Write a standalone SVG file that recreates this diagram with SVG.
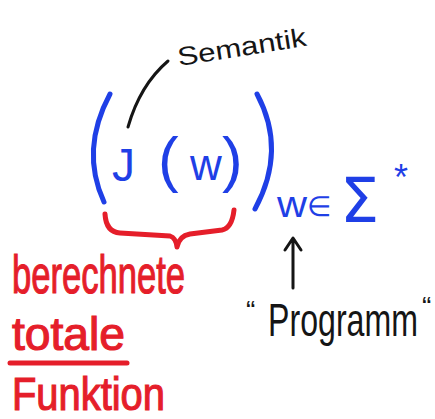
<svg xmlns="http://www.w3.org/2000/svg" width="435" height="419" viewBox="0 0 435 419">
<style>
.blue{fill:#1f3fe6;font-family:"Liberation Sans",Arial,sans-serif}
.sig{fill:#1f3fe6;font-family:"DejaVu Sans",sans-serif;font-size:62px}
.red{fill:#e51e2a;stroke:#e51e2a;stroke-width:1.2;font-family:"Liberation Sans",Arial,sans-serif}
.blk{fill:#151515;font-family:"Liberation Sans",Arial,sans-serif}
.sb{fill:none;stroke:#1f3fe6;stroke-width:5;stroke-linecap:round}
.sr{fill:none;stroke:#e51e2a;stroke-width:5;stroke-linecap:round;stroke-linejoin:round}
.sk{fill:none;stroke:#151515;stroke-width:3;stroke-linecap:round;stroke-linejoin:round}
</style>
<rect width="435" height="419" fill="#ffffff"/>
<g id="formula">
<path class="sb" d="M110 94 Q80 150 104 202"/>
<path class="sb" d="M257 94 Q287 150 255 209"/>
<text class="blue" x="112" y="181" font-size="46">J</text>
<text class="blue" font-size="62" y="180"><tspan x="158">(</tspan><tspan x="190" font-size="44">w</tspan><tspan x="222">)</tspan></text>
<text class="blue" x="277" y="217" font-size="36" textLength="30" lengthAdjust="spacingAndGlyphs">w</text>
<text class="blue" x="307" y="216" font-size="28">∈</text>
<text class="sig" x="340" y="222">&#931;</text>
<text class="blue" x="394" y="190" font-size="36">*</text>
</g>
<g id="semantik">
<text class="blk" x="179" y="66" font-size="26" transform="rotate(-9 179 66)" textLength="130" lengthAdjust="spacingAndGlyphs">Semantik</text>
<path class="sk" d="M168 61 Q140 85 128 127"/>
</g>
<g id="brace">
<path class="sr" d="M105 214 Q106 232 120 233 L170 236 Q176 238 177 247 Q179 236 190 234 L222 230 Q232 228 234 210"/>
</g>
<g id="function-label">
<text class="red" x="12" y="293" font-size="54" textLength="173" lengthAdjust="spacingAndGlyphs">berechnete</text>
<text class="red" x="12" y="350" font-size="46" textLength="113" lengthAdjust="spacingAndGlyphs">totale</text>
<line class="sr" x1="10" y1="363" x2="127" y2="363"/>
<text class="red" x="12" y="410" font-size="46" textLength="153" lengthAdjust="spacingAndGlyphs">Funktion</text>
</g>
<g id="programm">
<path class="sk" d="M293 288 L293 239 M285 250 L293 238 L301 250"/>
<text class="blk" x="246" y="320" font-size="28">“</text>
<text class="blk" x="268" y="336" font-size="46" textLength="150" lengthAdjust="spacingAndGlyphs">Programm</text>
<text class="blk" x="422" y="316" font-size="28">“</text>
</g>
</svg>
